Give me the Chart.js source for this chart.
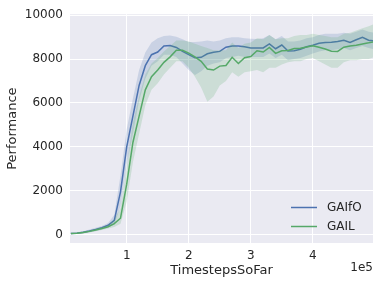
<!DOCTYPE html>
<html>
<head>
<meta charset="utf-8">
<script src="https://cdn.jsdelivr.net/npm/chart.js@4.4.0/dist/chart.umd.min.js"></script>
<style>
    body { margin: 0; background: #ffffff; }
    #perfChart { display: block; }
</style>
</head>
<body>
<canvas id="perfChart" width="381" height="286"></canvas>
<script>
// Timesteps (x values)
const timesteps = [10000, 20000, 30000, 40000, 50000, 60000, 70000, 80000, 90000, 100000,
    110000, 120000, 130000, 140000, 150000, 160000, 170000, 180000, 190000, 200000,
    210000, 220000, 230000, 240000, 250000, 260000, 270000, 280000, 290000, 300000,
    310000, 320000, 330000, 340000, 350000, 360000, 370000, 380000, 390000, 400000,
    410000, 420000, 430000, 440000, 450000, 460000, 470000, 480000, 490000, 500000];

// GAIfO mean and band
const gaifoMean = [50, 70, 110, 170, 240, 320, 430, 650, 1950, 4000,
    5400, 6800, 7700, 8200, 8320, 8600, 8620, 8530, 8350, 8200,
    8060, 8080, 8240, 8310, 8350, 8540, 8600, 8600, 8560, 8510,
    8500, 8510, 8690, 8470, 8640, 8370, 8380, 8450, 8560, 8630,
    8720, 8760, 8770, 8800, 8860, 8760, 8880, 8990, 8860, 8820];
const gaifoLo = [20, 30, 60, 110, 170, 240, 330, 450, 1300, 3200,
    4600, 6100, 7100, 7700, 7900, 8200, 8200, 8100, 7800, 7500,
    7280, 7450, 7700, 7800, 7850, 8050, 8100, 8150, 8100, 8100,
    8100, 8100, 8250, 8050, 8200, 7950, 8000, 8050, 8150, 8250,
    8350, 8400, 8400, 8450, 8500, 8400, 8500, 8600, 8500, 8450];
const gaifoHi = [80, 110, 160, 230, 310, 400, 530, 900, 2700, 4800,
    6200, 7500, 8300, 8750, 8950, 9050, 9070, 9020, 8900, 8780,
    8780, 8800, 8850, 8800, 8850, 8950, 9000, 9000, 8950, 8930,
    8920, 8950, 9100, 8900, 9050, 8800, 8800, 8850, 8950, 9000,
    9100, 9150, 9150, 9150, 9200, 9150, 9250, 9350, 9250, 9200];

// GAIL mean and band
const gailMean = [50, 65, 100, 150, 210, 280, 360, 500, 750, 2300,
    4200, 5400, 6600, 7200, 7500, 7850, 8100, 8400, 8400, 8270,
    8100, 7900, 7550, 7500, 7680, 7710, 8080, 7800, 8060, 8120,
    8380, 8320, 8530, 8260, 8380, 8390, 8480, 8490, 8550, 8610,
    8540, 8460, 8360, 8350, 8540, 8600, 8630, 8690, 8740, 8800];
const gailLo = [20, 30, 55, 100, 150, 210, 280, 350, 500, 1500,
    3300, 4600, 5900, 6600, 6900, 7300, 7600, 7900, 7900, 7600,
    7200, 6700, 6060, 6300, 6800, 7000, 7400, 7200, 7400, 7450,
    7500, 7400, 7600, 7600, 7750, 7850, 7900, 7900, 8000, 8050,
    7900, 7750, 7600, 7600, 7850, 7950, 7950, 8000, 8000, 8100];
const gailHi = [80, 100, 150, 200, 270, 350, 450, 700, 1200, 3100,
    5100, 6300, 7300, 7800, 8050, 8350, 8600, 8850, 8850, 8800,
    8700, 8600, 8500, 8400, 8400, 8400, 8750, 8500, 8700, 8750,
    8950, 8900, 9100, 8900, 8950, 8950, 9050, 9100, 9100, 9150,
    9100, 9050, 9000, 9000, 9150, 9200, 9300, 9400, 9500, 9600];

// Tick positions
const yTicks = [0, 2000, 4000, 6000, 8000, 10000];
const xTicks = [100000, 200000, 300000, 400000];

const seriesNames = ['GAIfO', 'GAIL'];
const seriesColors = ['#4C72B0', '#55A868'];
const bandColors = ['rgba(76, 114, 176, 0.2)', 'rgba(85, 168, 104, 0.2)'];
const textColor = '#262626';

document.addEventListener("DOMContentLoaded", function () {
    createPerformanceChart('perfChart');
});

function toPoints(values) {
    return values.map((v, i) => ({ x: timesteps[i], y: v }));
}

// Grey plot background, like seaborn darkgrid
const plotBackground = {
    id: 'plotBackground',
    beforeDraw(chart) {
        const { ctx, chartArea } = chart;
        ctx.save();
        ctx.fillStyle = '#EAEAF2';
        ctx.fillRect(chartArea.left, chartArea.top, chartArea.right - chartArea.left, chartArea.bottom - chartArea.top);
        ctx.restore();
    }
};

// Legend in the lower right corner plus the "1e5" offset text
const extraText = {
    id: 'extraText',
    afterDraw(chart) {
        const { ctx, chartArea } = chart;
        ctx.save();
        ctx.font = '12px "DejaVu Sans"';
        ctx.textBaseline = 'middle';
        const rows = [207.5, 226.5];
        seriesNames.forEach((name, i) => {
            ctx.strokeStyle = seriesColors[i];
            ctx.lineWidth = 1.5;
            ctx.beginPath();
            ctx.moveTo(291, rows[i]);
            ctx.lineTo(317, rows[i]);
            ctx.stroke();
            ctx.fillStyle = textColor;
            ctx.textAlign = 'left';
            ctx.fillText(name, 327, rows[i]);
        });
        ctx.textAlign = 'right';
        ctx.fillText('1e5', chartArea.right, 268);
        ctx.restore();
    }
};

function createPerformanceChart(canvasId) {
    const ctx = document.getElementById(canvasId).getContext('2d');
    Chart.defaults.font.family = '"DejaVu Sans", sans-serif';
    Chart.defaults.color = textColor;

    const lineStyle = { pointRadius: 0, borderWidth: 1.5, tension: 0, fill: false };
    const bandStyle = { pointRadius: 0, borderWidth: 0, tension: 0 };

    const datasets = [
        Object.assign({ label: 'GAIfO lo', data: toPoints(gaifoLo), borderColor: 'transparent', fill: false, order: 5 }, bandStyle),
        Object.assign({ label: 'GAIfO hi', data: toPoints(gaifoHi), borderColor: 'transparent', backgroundColor: bandColors[0], fill: 0, order: 4 }, bandStyle),
        Object.assign({ label: seriesNames[0], data: toPoints(gaifoMean), borderColor: seriesColors[0], order: 3 }, lineStyle),
        Object.assign({ label: 'GAIL lo', data: toPoints(gailLo), borderColor: 'transparent', fill: false, order: 2 }, bandStyle),
        Object.assign({ label: 'GAIL hi', data: toPoints(gailHi), borderColor: 'transparent', backgroundColor: bandColors[1], fill: 3, order: 1 }, bandStyle),
        Object.assign({ label: seriesNames[1], data: toPoints(gailMean), borderColor: seriesColors[1], order: 0 }, lineStyle)
    ];

    new Chart(ctx, {
        type: 'line',
        data: { datasets: datasets },
        options: {
            responsive: false,
            animation: false,
            layout: { padding: { left: 0, right: 8, top: 11, bottom: 0 } },
            plugins: {
                legend: { display: false },
                tooltip: { enabled: false }
            },
            scales: {
                x: {
                    type: 'linear',
                    min: 8600,
                    max: 497000,
                    border: { display: false },
                    grid: { color: '#ffffff', lineWidth: 1, drawTicks: false },
                    afterBuildTicks: scale => { scale.ticks = xTicks.map(v => ({ value: v })); },
                    afterFit: scale => { scale.height = 43; },
                    ticks: {
                        padding: 6,
                        font: { size: 12 },
                        maxRotation: 0,
                        callback: value => String(value / 100000)
                    },
                    title: {
                        display: true,
                        text: 'TimestepsSoFar',
                        font: { size: 13 },
                        padding: { top: 0, bottom: 8 }
                    }
                },
                y: {
                    min: -380,
                    max: 10045,
                    border: { display: false },
                    grid: { color: '#ffffff', lineWidth: 1, drawTicks: false },
                    afterBuildTicks: scale => { scale.ticks = yTicks.map(v => ({ value: v })); },
                    afterFit: scale => { scale.width = 70; },
                    ticks: {
                        padding: 7,
                        font: { size: 12 },
                        callback: value => String(value)
                    },
                    title: {
                        display: true,
                        text: 'Performance',
                        font: { size: 13 },
                        padding: { top: 5, bottom: 0 }
                    }
                }
            }
        },
        plugins: [plotBackground, extraText]
    });
}
</script>
</body>
</html>
